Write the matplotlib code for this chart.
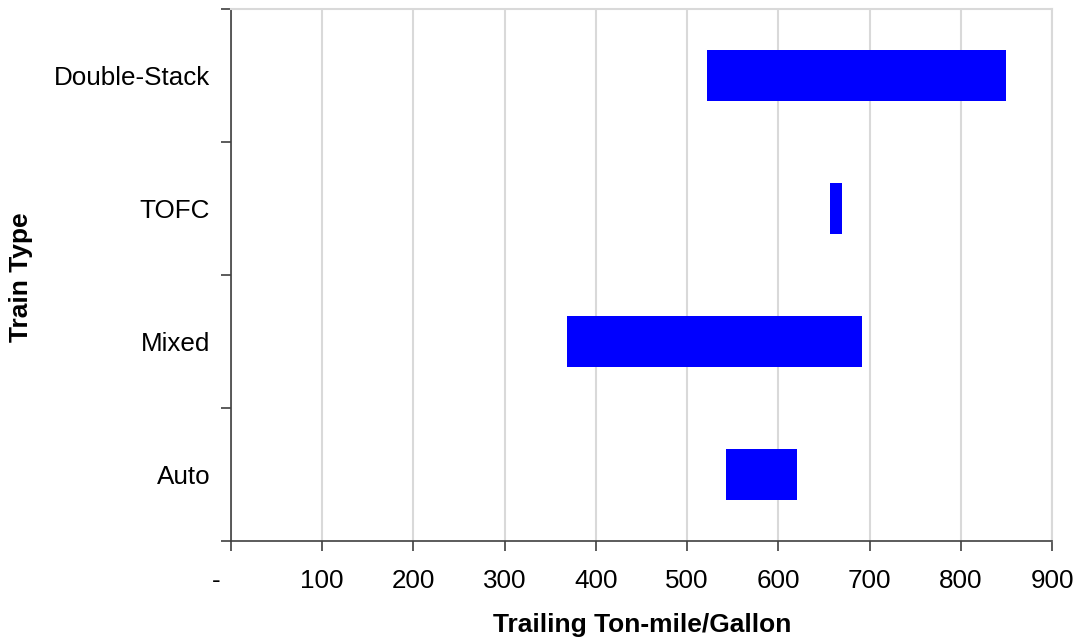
import matplotlib
matplotlib.use("Agg")
import matplotlib.pyplot as plt
import numpy as np

categories = ["Auto", "Mixed", "TOFC", "Double-Stack"]
range_low = [543, 368, 657, 522]
range_high = [620, 692, 670, 850]
x_ticks = [0, 100, 200, 300, 400, 500, 600, 700, 800, 900]
x_tick_labels = ["-    ", "100", "200", "300", "400", "500", "600", "700", "800", "900"]

plt.rcParams['font.family'] = ['Liberation Sans', 'DejaVu Sans']

fig = plt.figure(figsize=(10.78, 6.39), dpi=100)
ax = fig.add_axes([231/1078, 1 - 541/639, (1052 - 231)/1078, (541 - 9)/639])

ypos = np.arange(len(categories))
widths = [h - l for l, h in zip(range_low, range_high)]
ax.barh(ypos, widths, left=range_low, height=0.39, color='#0000ff', zorder=3)

ax.set_xlim(0, 900)
ax.set_ylim(-0.5, len(categories) - 0.5)
ax.set_xticks(x_ticks)
ax.set_xticklabels(x_tick_labels, fontsize=18.7)
ax.set_yticks(ypos)
ax.set_yticklabels(categories, fontsize=18.7)
ax.set_yticks(np.arange(-0.5, len(categories)), minor=True)
ax.tick_params(axis='y', which='major', length=0, pad=15)
ax.tick_params(axis='y', which='minor', length=7, width=1.2, color='#404040', direction='out')
ax.tick_params(axis='x', which='major', length=7, width=1.2, color='#404040', direction='out', pad=13)

ax.grid(axis='x', color='#d9d9d9', linewidth=1.5, zorder=0)
ax.set_axisbelow(True)

for s in ['left', 'bottom']:
    ax.spines[s].set_color('#404040')
    ax.spines[s].set_linewidth(1.2)
ax.spines['top'].set_color('#d9d9d9')
ax.spines['top'].set_linewidth(1.5)
ax.spines['right'].set_color('#d9d9d9')
ax.spines['right'].set_linewidth(1.5)

ax.set_xlabel("Trailing Ton-mile/Gallon", fontsize=19, fontweight='bold')
ax.xaxis.set_label_coords((642 - 231) / (1052 - 231), -(625 - 541) / (541 - 9), transform=ax.transAxes)
ax.xaxis.label.set_va('center')
ax.set_ylabel("Train Type", fontsize=19, fontweight='bold')
ax.yaxis.set_label_coords(-(231 - 21) / (1052 - 231), (541 - 277) / (541 - 9), transform=ax.transAxes)
ax.yaxis.label.set_va('center')

fig.savefig("out.png", dpi=100)
